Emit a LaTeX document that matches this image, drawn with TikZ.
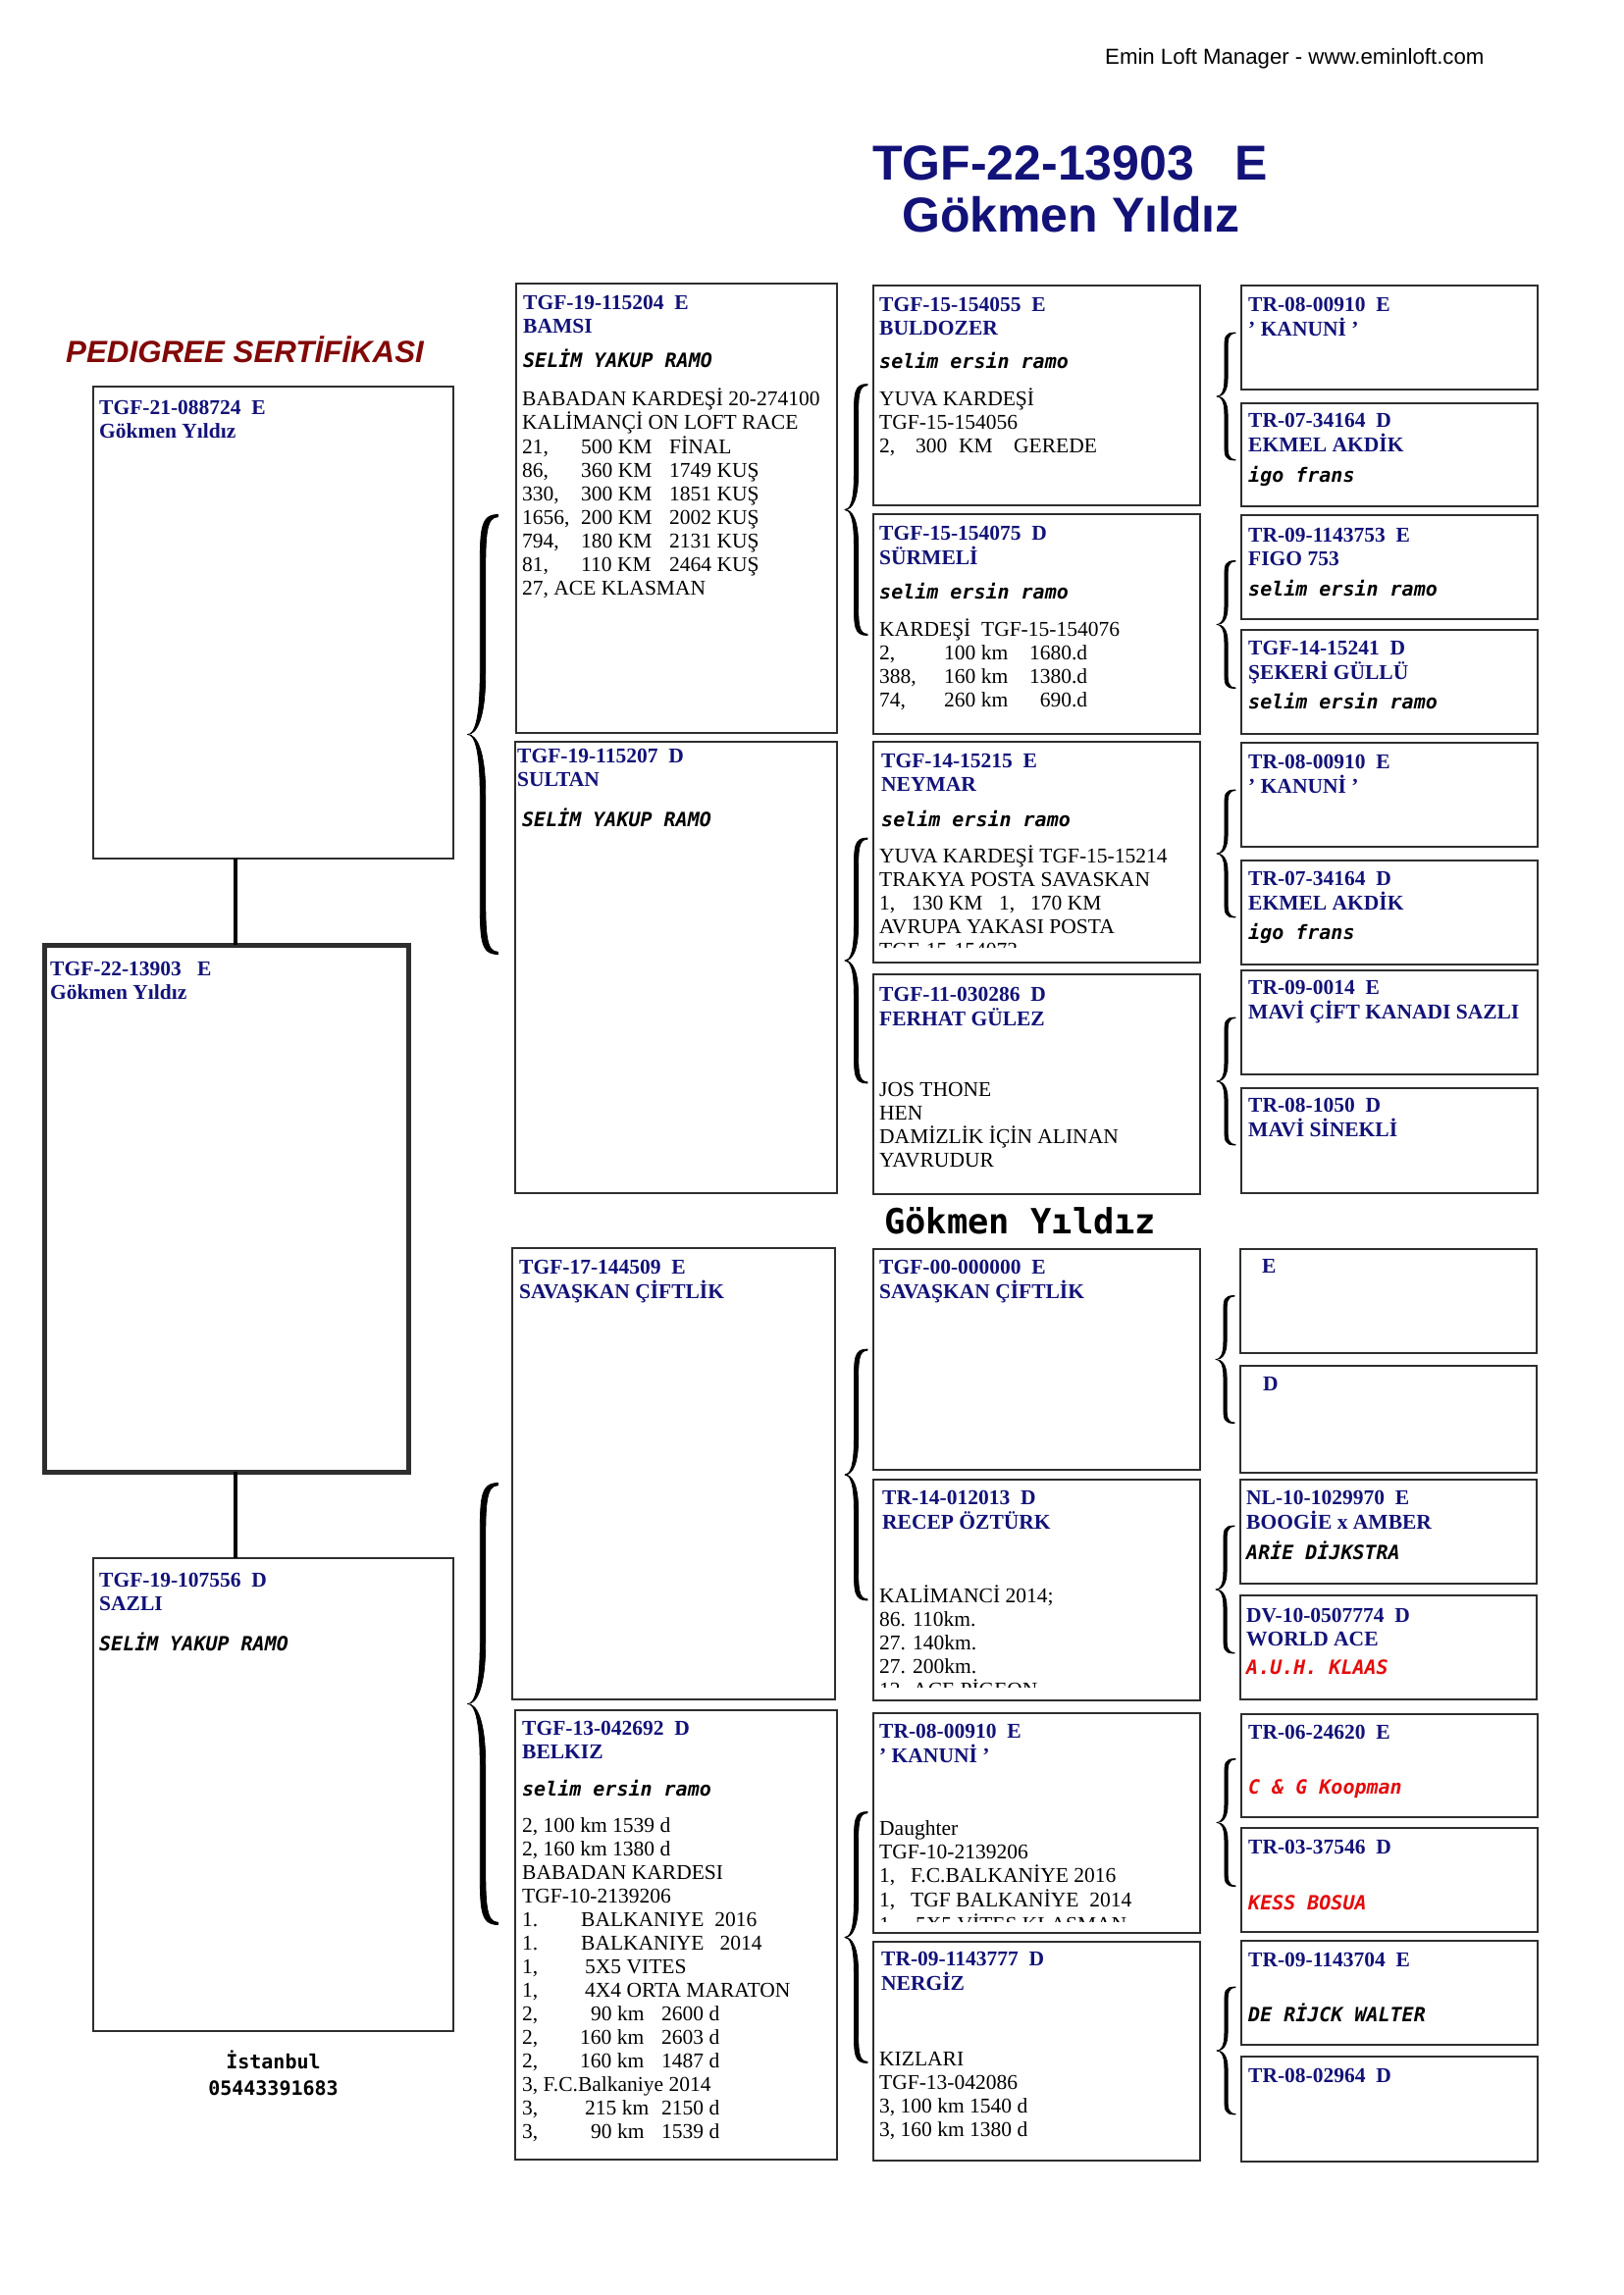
\documentclass[tikz,border=0pt]{standalone}
\usepackage{fontspec}
\setmainfont{Liberation Serif}
\newfontfamily\arialf{Liberation Sans}
\newfontfamily\monof{DejaVu Sans Mono}[BoldFont={DejaVu Sans Mono Bold},ItalicFont={DejaVu Sans Mono Oblique},BoldItalicFont={DejaVu Sans Mono Bold Oblique}]
\usetikzlibrary{calc}
\definecolor{navy}{RGB}{18,18,120}
\definecolor{dred}{RGB}{130,8,8}
\definecolor{bred}{RGB}{228,12,12}
\newcommand\Lns[1]{\begin{tabular}[t]{@{}l@{}}#1\end{tabular}}
\newcommand\tbx[2]{\makebox[#1pt][l]{#2}}
\newcommand\rbx[2]{\makebox[#1pt][r]{#2}}
\tikzset{
  pbox/.style={draw=black!82, line width=1.8pt, anchor=north west, inner sep=0, outer sep=0},
  hd/.style={anchor=base west, inner sep=0, text=navy, font=\fontsize{21.5}{24}\selectfont\bfseries},
  bd/.style={anchor=base west, inner sep=0, font=\fontsize{21.5}{24}\selectfont},
  mo/.style={anchor=base west, inner sep=0, font=\monof\fontsize{20}{24}\selectfont\bfseries\itshape},
  rmo/.style={mo, text=bred},
  brc/.style={fill=black, draw=black, line width=0.8pt, line join=round},
  conn/.style={draw=black, line width=4.5pt}
}
\newcommand\pbox[6][]{\node[pbox,#1,minimum width=#5pt-#3pt,minimum height=#6pt-#4pt] (#2) at (#3,#4) {};}
% half of a tapered curly brace: #1 tip, #2 signed half height, #3 width, #4 spine thickness
\newcommand\halfbr[4]{%
  \filldraw[brc]
   ($(#1)+(#3,#2)$) .. controls ($(#1)+(0.4*#3,#2)$) and ($(#1)+(0.5*#3-0.5*#4,0.93*#2)$) .. ($(#1)+(0.5*#3-0.5*#4,0.72*#2)$)
   -- ($(#1)+(0.5*#3-0.5*#4,0.28*#2)$) .. controls ($(#1)+(0.5*#3-0.5*#4,0.06*#2)$) and ($(#1)+(0.22*#3,0)$) .. (#1)
   .. controls ($(#1)+(0.32*#3,0)$) and ($(#1)+(0.5*#3+0.5*#4,0.08*#2)$) .. ($(#1)+(0.5*#3+0.5*#4,0.28*#2)$)
   -- ($(#1)+(0.5*#3+0.5*#4,0.72*#2)$) .. controls ($(#1)+(0.5*#3+0.5*#4,0.9*#2)$) and ($(#1)+(0.6*#3,0.99*#2)$) .. ($(#1)+(#3,0.99*#2)$) -- cycle;}
\newcommand\pbr[4]{\halfbr{#1}{-#2}{#3}{#4}\halfbr{#1}{#2}{#3}{#4}}
\begin{document}
\begin{tikzpicture}[x=1pt,y=-1pt]
\useasboundingbox (0,0) rectangle (1654,2339);
\fill[white] (0,0) rectangle (1654,2339);

% header
\node[anchor=base west, inner sep=0, font=\arialf\fontsize{22.2}{26}\selectfont] (site) at (1126,66) {Emin Loft Manager - www.eminloft.com};
\node[anchor=base west, inner sep=0, text=navy, font=\arialf\bfseries\fontsize{50}{56}\selectfont] (title1) at (889,183) {TGF-22-13903~~~E};
\node[anchor=base west, inner sep=0, text=navy, font=\arialf\bfseries\fontsize{50}{56}\selectfont] (title2) at (919,236) {Gökmen Yıldız};
\node[anchor=base west, inner sep=0, text=dred, font=\arialf\bfseries\itshape\fontsize{31.3}{34}\selectfont] (cert) at (67,369) {PEDIGREE SERTİFİKASI};

% ---------------- left column
\pbox{sireL}{95}{394}{462}{875}
\node[hd] (sireL-h) at ($(sireL.north west)+(6,28)$) {\Lns{TGF-21-088724~~E\\Gökmen Yıldız}};
\pbox[line width=5pt]{mainL}{45}{963}{416}{1500}
\node[hd] (mainL-h) at ($(mainL.north west)+(6,31)$) {\Lns{TGF-22-13903~~~E\\Gökmen Yıldız}};
\pbox{damL}{95}{1588}{462}{2070}
\node[hd] (damL-h) at ($(damL.north west)+(6,29)$) {\Lns{TGF-19-107556~~D\\SAZLI}};
\node[mo] (damL-m) at ($(damL.north west)+(6,94)$) {SELİM YAKUP RAMO};
\node[anchor=base, inner sep=0, font=\monof\bfseries\fontsize{20}{24}\selectfont] (city) at ($(damL.south)+(0,38)$) {İstanbul};
\node[anchor=base, inner sep=0, font=\monof\bfseries\fontsize{20}{24}\selectfont] (tel) at ($(damL.south)+(0,65)$) {05443391683};

\coordinate (k1) at ($(sireL.south west)+(145,0)$);
\coordinate (k2) at ($(damL.north west)+(145,0)$);
\draw[conn] (k1) -- (k1 |- mainL.north);
\draw[conn] (k2 |- mainL.south) -- (k2);

% ---------------- column 2
\pbox{c2a}{526}{289}{853}{747}
\node[hd] (c2a-h) at ($(c2a.north west)+(7,26)$) {\Lns{TGF-19-115204~~E\\BAMSI}};
\node[mo] (c2a-m) at ($(c2a.north west)+(7,85)$) {SELİM YAKUP RAMO};
\node[bd] (c2a-b) at ($(c2a.north west)+(6,124)$) {\Lns{BABADAN KARDEŞİ 20-274100\\KALİMANÇİ ON LOFT RACE\\
\tbx{60}{21,}\tbx{90}{500 KM}FİNAL\\
\tbx{60}{86,}\tbx{90}{360 KM}1749 KUŞ\\
\tbx{60}{330,}\tbx{90}{300 KM}1851 KUŞ\\
\tbx{60}{1656,}\tbx{90}{200 KM}2002 KUŞ\\
\tbx{60}{794,}\tbx{90}{180 KM}2131 KUŞ\\
\tbx{60}{81,}\tbx{90}{110 KM}2464 KUŞ\\
27, ACE KLASMAN}};

\pbox{c2b}{525}{756}{853}{1216}
\node[hd] (c2b-h) at ($(c2b.north west)+(2,21)$) {\Lns{TGF-19-115207~~D\\SULTAN}};
\node[mo] (c2b-m) at ($(c2b.north west)+(7,86)$) {SELİM YAKUP RAMO};

\pbox{c2c}{522}{1272}{851}{1732}
\node[hd] (c2c-h) at ($(c2c.north west)+(7,26)$) {\Lns{TGF-17-144509~~E\\SAVAŞKAN ÇİFTLİK}};

\pbox{c2d}{525}{1743}{853}{2201}
\node[hd] (c2d-h) at ($(c2d.north west)+(7,25)$) {\Lns{TGF-13-042692~~D\\BELKIZ}};
\node[mo] (c2d-m) at ($(c2d.north west)+(7,87)$) {selim ersin ramo};
\node[bd] (c2d-b) at ($(c2d.north west)+(7,124)$) {\Lns{2, 100 km 1539 d\\2, 160 km 1380 d\\BABADAN KARDESI\\TGF-10-2139206\\
\tbx{60}{1.}BALKANIYE~~2016\\
\tbx{60}{1.}BALKANIYE~~~2014\\
\tbx{64}{1,}5X5 VITES\\
\tbx{64}{1,}4X4 ORTA MARATON\\
\tbx{70}{2,}\tbx{72}{90 km}2600 d\\
\tbx{59}{2,}\tbx{83}{160 km}2603 d\\
\tbx{59}{2,}\tbx{83}{160 km}1487 d\\
3, F.C.Balkaniye 2014\\
\tbx{64}{3,}\tbx{78}{215 km}2150 d\\
\tbx{70}{3,}\tbx{72}{90 km}1539 d}};

% ---------------- column 3
\pbox{c3a}{890}{291}{1223}{515}
\node[hd] (c3a-h) at ($(c3a.north west)+(6,26)$) {\Lns{TGF-15-154055~~E\\BULDOZER}};
\node[mo] (c3a-m) at ($(c3a.north west)+(6,84)$) {selim ersin ramo};
\node[bd] (c3a-b) at ($(c3a.north west)+(6,122)$) {\Lns{YUVA KARDEŞİ\\TGF-15-154056\\\tbx{37}{2,}\tbx{44}{300}\tbx{56}{KM}GEREDE}};

\pbox{c3b}{890}{524}{1223}{748}
\node[hd] (c3b-h) at ($(c3b.north west)+(6,26)$) {\Lns{TGF-15-154075~~D\\SÜRMELİ}};
\node[mo] (c3b-m) at ($(c3b.north west)+(6,86)$) {selim ersin ramo};
\node[bd] (c3b-b) at ($(c3b.north west)+(6,124)$) {\Lns{KARDEŞİ~~TGF-15-154076\\
\tbx{66}{2,}\tbx{87}{100 km}\rbx{59}{1680.d}\\
\tbx{66}{388,}\tbx{87}{160 km}\rbx{59}{1380.d}\\
\tbx{66}{74,}\tbx{87}{260 km}\rbx{59}{690.d}}};

\pbox{c3c}{890}{756}{1223}{981}
\node[hd] (c3c-h) at ($(c3c.north west)+(8,26)$) {\Lns{TGF-14-15215~~E\\NEYMAR}};
\node[mo] (c3c-m) at ($(c3c.north west)+(8,86)$) {selim ersin ramo};
\begin{scope}
\clip (c3c.north west) rectangle ($(c3c.south east)+(0,-16)$);
\node[bd] (c3c-b) at ($(c3c.north west)+(6,123)$) {\Lns{YUVA KARDEŞİ TGF-15-15214\\TRAKYA POSTA SAVASKAN\\
\tbx{33}{1,}\tbx{89}{130 KM}\tbx{32}{1,}170 KM\\AVRUPA YAKASI POSTA\\TGF-15-154073}};
\end{scope}

\pbox{c3d}{890}{993}{1223}{1217}
\node[hd] (c3d-h) at ($(c3d.north west)+(6,27)$) {\Lns{TGF-11-030286~~D\\FERHAT GÜLEZ}};
\node[bd] (c3d-b) at ($(c3d.north west)+(6,124)$) {\Lns{JOS THONE\\HEN\\DAMİZLİK İÇİN ALINAN\\YAVRUDUR}};

\node[anchor=base west, inner sep=0, font=\monof\bfseries\fontsize{35.4}{40}\selectfont] (midname) at (901,1257) {Gökmen Yıldız};

\pbox{c3e}{890}{1273}{1223}{1498}
\node[hd] (c3e-h) at ($(c3e.north west)+(6,25)$) {\Lns{TGF-00-000000~~E\\SAVAŞKAN ÇİFTLİK}};

\pbox{c3f}{890}{1508}{1223}{1733}
\node[hd] (c3f-h) at ($(c3f.north west)+(9,25)$) {\Lns{TR-14-012013~~D\\RECEP ÖZTÜRK}};
\begin{scope}
\clip (c3f.north west) rectangle ($(c3f.south east)+(0,-14)$);
\node[bd] (c3f-b) at ($(c3f.north west)+(6,125)$) {\Lns{KALİMANCİ 2014;\\86. 110km.\\27. 140km.\\27. 200km.\\12. ACE PİGEON}};
\end{scope}

\pbox{c3g}{890}{1746}{1223}{1970}
\node[hd] (c3g-h) at ($(c3g.north west)+(6,25)$) {\Lns{TR-08-00910~~E\\’ KANUNİ ’}};
\begin{scope}
\clip (c3g.north west) rectangle ($(c3g.south east)+(0,-12)$);
\node[bd] (c3g-b) at ($(c3g.north west)+(6,124)$) {\Lns{Daughter\\TGF-10-2139206\\\tbx{32}{1,}F.C.BALKANİYE 2016\\\tbx{32}{1,}TGF BALKANİYE~~2014\\\tbx{37}{1,}5X5 VİTES KLASMAN}};
\end{scope}

\pbox{c3h}{890}{1979}{1223}{2202}
\node[hd] (c3h-h) at ($(c3h.north west)+(8,24)$) {\Lns{TR-09-1143777~~D\\NERGİZ}};
\node[bd] (c3h-b) at ($(c3h.north west)+(6,126)$) {\Lns{KIZLARI\\TGF-13-042086\\3, 100 km 1540 d\\3, 160 km 1380 d}};

% ---------------- column 4
\pbox{d1}{1265}{291}{1567}{397}
\node[hd] (d1-h) at ($(d1.north west)+(7,26)$) {\Lns{TR-08-00910~~E\\’ KANUNİ ’}};
\pbox{d2}{1265}{411}{1567}{516}
\node[hd] (d2-h) at ($(d2.north west)+(7,24)$) {\Lns{TR-07-34164~~D\\EKMEL AKDİK}};
\node[mo] (d2-m) at ($(d2.north west)+(7,80)$) {igo frans};
\pbox{d3}{1265}{525}{1567}{631}
\node[hd] (d3-h) at ($(d3.north west)+(7,27)$) {\Lns{TR-09-1143753~~E\\FIGO 753}};
\node[mo] (d3-m) at ($(d3.north west)+(7,82)$) {selim ersin ramo};
\pbox{d4}{1265}{642}{1567}{748}
\node[hd] (d4-h) at ($(d4.north west)+(7,25)$) {\Lns{TGF-14-15241~~D\\ŞEKERİ GÜLLÜ}};
\node[mo] (d4-m) at ($(d4.north west)+(7,80)$) {selim ersin ramo};
\pbox{d5}{1265}{757}{1567}{863}
\node[hd] (d5-h) at ($(d5.north west)+(7,26)$) {\Lns{TR-08-00910~~E\\’ KANUNİ ’}};
\pbox{d6}{1265}{877}{1567}{983}
\node[hd] (d6-h) at ($(d6.north west)+(7,25)$) {\Lns{TR-07-34164~~D\\EKMEL AKDİK}};
\node[mo] (d6-m) at ($(d6.north west)+(7,80)$) {igo frans};
\pbox{d7}{1265}{989}{1567}{1095}
\node[hd] (d7-h) at ($(d7.north west)+(7,24)$) {\Lns{TR-09-0014~~E\\MAVİ ÇİFT KANADI SAZLI}};
\pbox{d8}{1265}{1109}{1567}{1216}
\node[hd] (d8-h) at ($(d8.north west)+(7,24)$) {\Lns{TR-08-1050~~D\\MAVİ SİNEKLİ}};
\pbox{d9}{1264}{1273}{1566}{1379}
\node[hd] (d9-h) at ($(d9.north west)+(22,24)$) {E};
\pbox{d10}{1264}{1392}{1566}{1501}
\node[hd] (d10-h) at ($(d10.north west)+(23,25)$) {D};
\pbox{d11}{1264}{1508}{1566}{1614}
\node[hd] (d11-h) at ($(d11.north west)+(6,25)$) {\Lns{NL-10-1029970~~E\\BOOGİE x AMBER}};
\node[mo] (d11-m) at ($(d11.north west)+(6,81)$) {ARİE DİJKSTRA};
\pbox{d12}{1264}{1626}{1566}{1732}
\node[hd] (d12-h) at ($(d12.north west)+(6,27)$) {\Lns{DV-10-0507774~~D\\WORLD ACE}};
\node[rmo] (d12-m) at ($(d12.north west)+(6,80)$) {A.U.H. KLAAS};
\pbox{d13}{1265}{1747}{1567}{1852}
\node[hd] (d13-h) at ($(d13.north west)+(7,25)$) {TR-06-24620~~E};
\node[rmo] (d13-m) at ($(d13.north west)+(7,81)$) {C \& G Koopman};
\pbox{d14}{1265}{1863}{1567}{1969}
\node[hd] (d14-h) at ($(d14.north west)+(7,26)$) {TR-03-37546~~D};
\node[rmo] (d14-m) at ($(d14.north west)+(7,83)$) {KESS BOSUA};
\pbox{d15}{1265}{1978}{1567}{2084}
\node[hd] (d15-h) at ($(d15.north west)+(7,26)$) {TR-09-1143704~~E};
\node[mo] (d15-m) at ($(d15.north west)+(7,82)$) {DE RİJCK WALTER};
\pbox{d16}{1265}{2096}{1567}{2203}
\node[hd] (d16-h) at ($(d16.north west)+(7,26)$) {TR-08-02964~~D};

% ---------------- braces
\coordinate (bA) at ($(c2a.south west)!0.5!(c2b.north west)+(-49,-3)$);
\coordinate (bB) at ($(c2c.south west)!0.5!(c2d.north west)+(-47,-1)$);
\pbr{bA}{224}{31}{5.5}
\pbr{bB}{225}{31}{5.5}
\coordinate (bC) at ($(c3a.south west)!0.5!(c3b.north west)+(-29,0)$);
\coordinate (bD) at ($(c3c.south west)!0.5!(c3d.north west)+(-29,-8)$);
\coordinate (bE) at ($(c3e.south west)!0.5!(c3f.north west)+(-29,0)$);
\coordinate (bF) at ($(c3g.south west)!0.5!(c3h.north west)+(-29,0)$);
\pbr{bC}{128}{23}{4.2}
\pbr{bD}{125}{23}{4.2}
\pbr{bE}{128}{23}{4.2}
\pbr{bF}{128}{23}{4.2}
\foreach \u/\v/\n in {d1/d2/g1,d3/d4/g2,d5/d6/g3,d7/d8/g4,d9/d10/g5,d11/d12/g6,d13/d14/g7,d15/d16/g8}{
  \coordinate (\n) at ($(\u.south west)!0.5!(\v.north west)+(-25,0)$);
  \pbr{\n}{65}{19}{3.2}
}
\end{tikzpicture}
\end{document}
